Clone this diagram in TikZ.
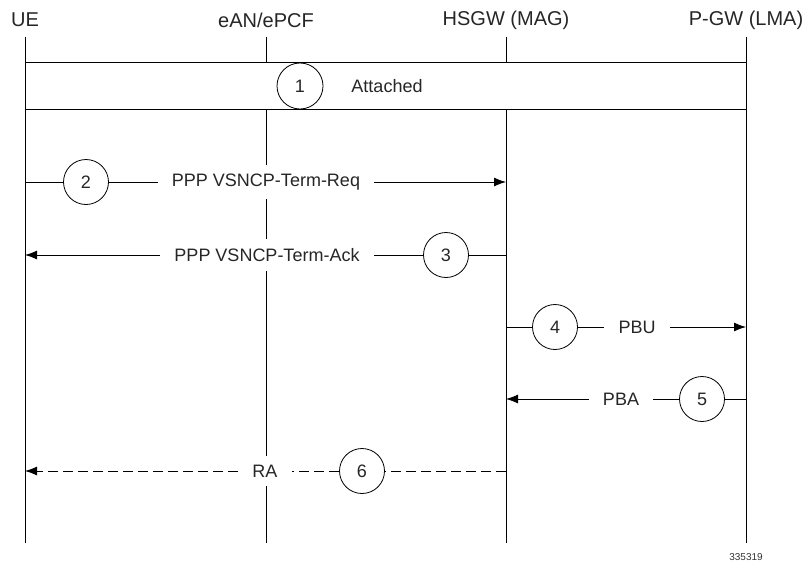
\documentclass[tikz,border=0pt]{standalone}
\usepackage{fontspec}
\setmainfont{Liberation Sans}
\usetikzlibrary{arrows.meta}
\begin{document}
\begin{tikzpicture}[x=1pt, y=-1pt, line width=0.8pt,
  head/.style={font=\fontsize{20}{22}\selectfont, text=black!85},
  stepnum/.style={draw, circle, fill=white, minimum size=45pt, inner sep=0pt,
    font=\fontsize{18}{20}\selectfont, text=black!85},
  msg/.style={fill=white, inner xsep=14pt, inner ysep=9pt,
    font=\fontsize{18}{20}\selectfont, text=black!85},
  tip/.style={-{Latex[length=12pt, width=9pt]}},
  ret/.style={dash pattern=on 10pt off 5pt}]
  \useasboundingbox (0,0) rectangle (806,563);
  % entities and their lifelines
  \foreach \n/\x/\l in {ue/25/UE, ean/266/{eAN/ePCF}, hsgw/506/{HSGW (MAG)}, pgw/746/{P-GW (LMA)}} {
    \node[head] (\n) at (\x,20) {\l};
    \coordinate (\n-top) at (\x,37);
    \coordinate (\n-end) at (\x,543);
    \draw (\n-top) -- (\n-end);
    % anchor points for the message rows
    \foreach \r/\y in {2/182, 3/255, 4/327, 5/399, 6/471}
      \coordinate (\n\r) at (\x,\y);
  }
  % step 1: already attached
  \node[draw, fill=white, minimum width=721pt, minimum height=47pt, inner sep=0pt]
    (attach) at (385.5,85.5) {};
  \node[stepnum, minimum size=46pt] (c1) at (300,86) {1};
  \node[head, font=\fontsize{18}{20}\selectfont] (att) at (387,86) {Attached};
  % step 2: UE -> HSGW
  \node[stepnum] (c2) at (86,182) {2};
  \node[msg] (m2) at (266,182) {PPP VSNCP-Term-Req};
  \draw (ue2) -- (c2);
  \draw (c2) -- (m2);
  \draw[tip] (m2) -- (hsgw2);
  % step 3: HSGW -> UE
  \node[stepnum] (c3) at (446,255) {3};
  \node[msg] (m3) at (267,255) {PPP VSNCP-Term-Ack};
  \draw (hsgw3) -- (c3);
  \draw (c3) -- (m3);
  \draw[tip] (m3) -- (ue3);
  % step 4: HSGW -> P-GW
  \node[stepnum] (c4) at (555,327) {4};
  \node[msg] (m4) at (637,327) {PBU};
  \draw (hsgw4) -- (c4);
  \draw (c4) -- (m4);
  \draw[tip] (m4) -- (pgw4);
  % step 5: P-GW -> HSGW
  \node[stepnum] (c5) at (702,399) {5};
  \node[msg] (m5) at (621,399) {PBA};
  \draw (pgw5) -- (c5);
  \draw (c5) -- (m5);
  \draw[tip] (m5) -- (hsgw5);
  % step 6: router advertisement, dashed
  \node[stepnum] (c6) at (362,471) {6};
  \node[msg] (m6) at (265,471) {RA};
  \draw[ret] (hsgw6) -- (c6);
  \draw[ret] (c6) -- (m6);
  \draw[ret, tip] (m6) -- (ue6);
  % figure number
  \node[font=\fontsize{10}{12}\selectfont, text=black!80] (fig) at (746,557) {335319};
\end{tikzpicture}
\end{document}
